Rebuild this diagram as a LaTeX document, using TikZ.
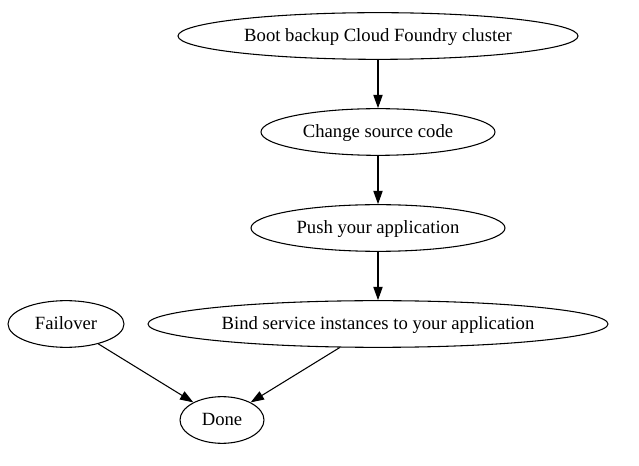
\documentclass[tikz,border=0pt]{standalone}
\usepackage{fontspec}
\setmainfont{Liberation Serif}
\usetikzlibrary{shapes.geometric,arrows.meta}
\begin{document}
\begin{tikzpicture}[x=0.75pt,y=-0.75pt,
  gnode/.style={draw,ellipse,inner sep=0pt,minimum height=35pt,text height=11pt,text depth=3pt,line width=0.8pt,font=\fontsize{14pt}{16pt}\selectfont},
  garrow/.style={line width=0.8pt,-{Triangle[length=10pt,width=7pt]}}]
\useasboundingbox (0,0) rectangle (639,466);
\node[gnode,minimum width=300pt] (boot) at (378,36) {Boot backup Cloud Foundry cluster};
\node[gnode,minimum width=175.5pt] (change) at (378,132) {Change source code};
\node[gnode,minimum width=190.5pt] (push) at (378,228) {Push your application};
\node[gnode,minimum width=87pt] (fail) at (66,324) {Failover};
\node[gnode,minimum width=345pt] (bind) at (378,324) {Bind service instances to your application};
\node[gnode,minimum width=63pt] (done) at (222,420) {Done};
\draw[garrow] (boot) -- (change);
\draw[garrow] (change) -- (push);
\draw[garrow] (push) -- (bind);
\draw[garrow] (fail) -- (done);
\draw[garrow] (bind) -- (done);
\end{tikzpicture}
\end{document}
